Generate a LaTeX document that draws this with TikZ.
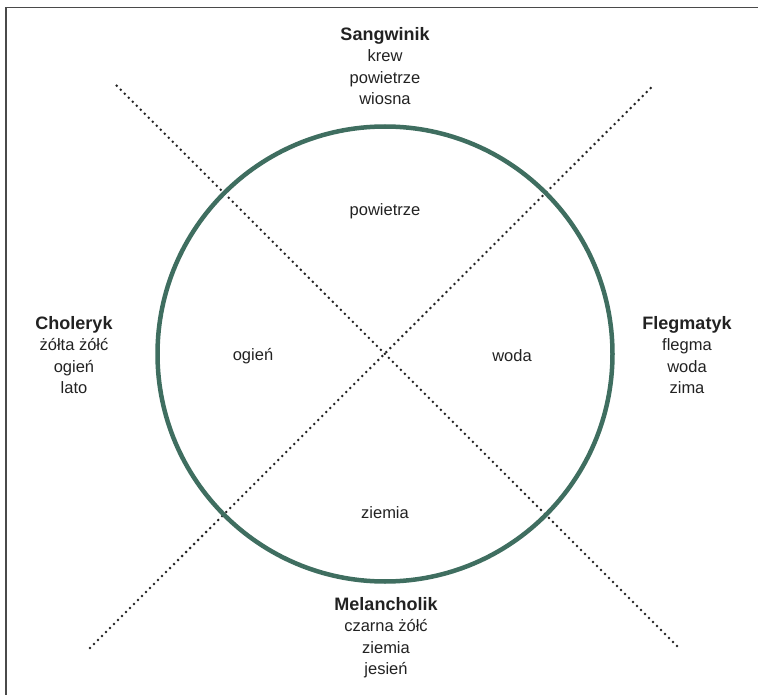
\documentclass[tikz,border=0pt]{standalone}
\usepackage{fontspec}
\setmainfont{Liberation Sans}
\definecolor{ringgreen}{HTML}{3F6E60}
\definecolor{framegray}{HTML}{4A4A4A}
\definecolor{inkc}{HTML}{222222}
\begin{document}
\begin{tikzpicture}[x=1pt,y=-1pt,
  ring/.style={draw=ringgreen,line width=4.5pt},
  dotline/.style={line width=2.8pt,line cap=round,dash pattern=on 0pt off 5.66pt,inkc},
  tlabel/.style={align=center,font=\fontsize{16.5}{21.5}\selectfont,text=inkc,inner sep=0pt},
  qlabel/.style={font=\fontsize{16.5}{21.5}\selectfont,text=inkc,inner sep=0pt},
  hd/.style={font=\fontsize{18}{21.5}\selectfont\bfseries}]
\useasboundingbox (0,0) rectangle (758,695);
\draw[framegray,line width=1.3pt] (6,695) -- (6,7.5) -- (758,7.5);
% dotted diagonals
\coordinate (d1a) at (116.7,85.7);
\coordinate (d1b) at (681,650);
\coordinate (d2a) at (90,648);
\coordinate (d2b) at (654,84.7);
\draw[dotline] (d1a) -- (d1b);
\draw[dotline] (d2a) -- (d2b);
% circle
\node[ring,circle,minimum size=455pt,inner sep=0pt] (c) at (385,354) {};
% inner labels
\node[qlabel] (pw) at (385,211) {powietrze};
\node[qlabel] (og) at (253,356) {ogień};
\node[qlabel] (wo) at (512,356) {woda};
\node[qlabel] (zi) at (385,513) {ziemia};
% outer blocks
\node[tlabel] (s) at (385,66) {{\fontsize{18}{21.5}\selectfont\bfseries Sangwinik}\\krew\\powietrze\\wiosna};
\node[tlabel] (ch) at (74,355) {{\fontsize{18}{21.5}\selectfont\bfseries Choleryk}\\żółta żółć\\ogień\\lato};
\node[tlabel] (fl) at (687,355) {{\fontsize{18}{21.5}\selectfont\bfseries Flegmatyk}\\flegma\\woda\\zima};
\node[tlabel] (me) at (386,637.5) {{\fontsize{18}{21.5}\selectfont\bfseries Melancholik}\\czarna żółć\\ziemia\\jesień};
\end{tikzpicture}
\end{document}
